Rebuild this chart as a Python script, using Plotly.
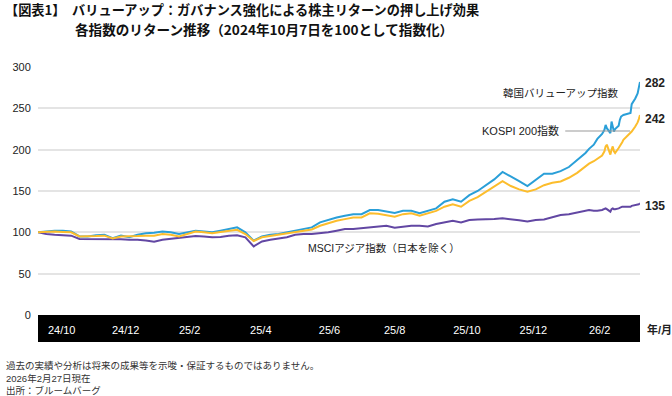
import pandas as pd
import plotly.graph_objects as go

# ---------------- data ----------------
weekly_dates = list(pd.date_range("2024-10-07", "2026-01-05", freq="7D").strftime("%Y-%m-%d"))
late_dates = ["2026-01-12", "2026-01-15", "2026-01-19", "2026-01-22", "2026-01-26", "2026-01-28",
              "2026-01-29", "2026-01-30", "2026-02-02", "2026-02-03", "2026-02-04", "2026-02-05",
              "2026-02-06", "2026-02-09", "2026-02-10", "2026-02-11", "2026-02-12", "2026-02-13",
              "2026-02-19", "2026-02-20", "2026-02-23", "2026-02-24", "2026-02-25", "2026-02-26",
              "2026-02-27"]
dates = weekly_dates + late_dates

korea_valueup = [100, 101, 102, 102, 101, 95, 95, 96.5, 97, 93,
                 96, 94, 97, 99, 99.5, 101, 100, 98, 100, 102,
                 101, 100, 102, 104, 106, 100, 90, 95, 97, 98,
                 100, 102, 104, 106, 112, 115, 118, 120, 122, 122,
                 127, 127, 125, 123.5, 126, 126, 123, 126, 129, 137,
                 140, 137, 145, 150, 157, 164, 173, 168, 162, 156,
                 164, 171, 171, 174, 179, 187,
                 196, 201, 206, 213, 219, 224, 230, 226, 220, 234, 226, 222,
                 225, 229, 236, 240, 241, 242, 244.5, 255, 262, 266, 268, 275, 282]

kospi200 = [100, 100.5, 101, 100.5, 100, 95, 95, 95.5, 96, 92.5,
            95, 95, 95.5, 96, 96, 98, 97, 95, 98, 101,
            100, 99, 100.5, 102, 103, 98, 89.5, 94, 95.5, 97,
            98.5, 100, 102, 103.5, 108, 111, 114, 116, 118, 118,
            123, 122.5, 121, 119, 122, 123, 120, 123, 126, 131,
            134, 131, 138, 142.5, 149, 155, 162, 156, 152, 149,
            152, 157, 160, 161.5, 166, 172,
            180, 183, 186, 189, 193, 198, 204, 206, 194, 200, 204, 198,
            196, 202, 204, 206, 209, 212, 220, 222, 228, 230, 233, 237, 242]

msci_asia_xjp = [100, 98, 97, 96.5, 96, 92, 92, 92, 92, 92,
                 91.5, 91, 91, 90, 88.5, 91, 92, 93, 94, 95.5,
                 95, 94, 94.5, 96, 96.5, 94, 83, 89, 91, 92.5,
                 94, 97, 98, 98, 99, 100, 102, 104, 104, 105,
                 106, 106.5, 108, 105.5, 106.5, 108, 108, 107, 110, 112,
                 114, 112, 115, 115.5, 115.5, 116, 117, 116, 114.5, 113,
                 115, 115.5, 118, 121, 122, 124,
                 126, 127, 126, 126, 127, 128, 129, 128, 125, 128, 129, 128,
                 128, 129, 130, 130, 131, 131, 131, 132, 133, 133, 134, 134, 135]

series_names = ["MSCIアジア指数（日本を除く）", "韓国バリューアップ指数", "KOSPI 200指数"]
end_labels = ["135", "282", "242"]

y_ticks = [0, 50, 100, 150, 200, 250, 300]
x_tick_dates = ["2024-10-27", "2024-12-20", "2025-02-12", "2025-04-13", "2025-06-10",
                "2025-08-04", "2025-10-04", "2025-11-29", "2026-01-24"]
x_tick_text = ["24/10", "24/12", "25/2", "25/4", "25/6", "25/8", "25/10", "25/12", "26/2"]

title_1 = "【図表1】　バリューアップ：ガバナンス強化による株主リターンの押し上げ効果"
title_2 = "各指数のリターン推移（2024年10月7日を100として指数化）"
notes = ["過去の実績や分析は将来の成果等を示唆・保証するものではありません。",
         "2026年2月27日現在",
         "出所：ブルームバーグ"]

# ---------------- style ----------------
FONT = "Arial, 'Liberation Sans', 'Noto Sans CJK JP', sans-serif"
JFONT = "'Noto Sans CJK JP', Arial, sans-serif"
C_BLUE = "#2a9fd8"
C_YEL = "#fcbd2c"
C_PUR = "#6247a3"

fig = go.Figure()
fig.add_trace(go.Scatter(x=dates, y=msci_asia_xjp, mode="lines", name=series_names[0],
                         line=dict(color=C_PUR, width=2)))
fig.add_trace(go.Scatter(x=dates, y=korea_valueup, mode="lines", name=series_names[1],
                         line=dict(color=C_BLUE, width=2)))
fig.add_trace(go.Scatter(x=dates, y=kospi200, mode="lines", name=series_names[2],
                         line=dict(color=C_YEL, width=2)))

fig.update_layout(
    width=672, height=396,
    margin=dict(l=36, r=32, t=67, b=81),
    paper_bgcolor="white", plot_bgcolor="white",
    showlegend=False,
    font=dict(family=FONT, size=11, color="#222"),
)
fig.update_yaxes(range=[0, 300], tickvals=y_ticks, showgrid=True, gridcolor="#e4e4e4",
                 gridwidth=1.5, zeroline=False, showline=False,
                 ticks="outside", ticklen=4, tickcolor="rgba(0,0,0,0)",
                 tickfont=dict(family=FONT, size=11, color="#222"))
fig.update_xaxes(type="date", range=[dates[0], dates[-1]], tickvals=x_tick_dates, ticktext=x_tick_text,
                 showgrid=False, zeroline=False, showline=False,
                 ticks="outside", ticklen=5, tickcolor="rgba(0,0,0,0)",
                 tickfont=dict(family=FONT, size=11, color="white"))

H = 248.0
W = 604.0
def px(xp):
    return (xp - 36) / W
def py(yp):
    return (315 - yp) / H

# black axis band
fig.add_shape(type="rect", xref="paper", yref="paper", x0=0, x1=1, y0=py(342), y1=0,
              fillcolor="black", line=dict(width=0), layer="below")
# leader line for KOSPI label
fig.add_shape(type="line", xref="paper", yref="paper", x0=px(565), x1=px(630), y0=py(131), y1=py(131),
              line=dict(color="#999999", width=1))

ann = []
ann.append(dict(text=series_names[1], x=px(621), y=py(92), xanchor="right", yanchor="middle",
                font=dict(family=JFONT, size=10.5, color="#222")))
ann.append(dict(text=series_names[2], x=px(561), y=py(130), xanchor="right", yanchor="middle",
                font=dict(family=FONT, size=11, color="#222")))
ann.append(dict(text=series_names[0], x=px(383), y=py(248), xanchor="center", yanchor="middle",
                font=dict(family=FONT, size=10.5, color="#222")))
for lab, yp in zip(end_labels, [205.5, 83, 119]):
    ann.append(dict(text="<b>" + lab + "</b>", x=px(643), y=py(yp), xanchor="left", yanchor="middle",
                    font=dict(family=FONT, size=12, color="#222")))
ann.append(dict(text="<b>年/月</b>", x=px(645), y=py(329), xanchor="left", yanchor="middle",
                font=dict(family=FONT, size=11, color="#222")))
ann.append(dict(text="<b>" + title_1 + "</b>", x=px(1), y=py(9), xanchor="left", yanchor="middle",
                font=dict(family=JFONT, size=13.2, color="#111")))
ann.append(dict(text="<b>" + title_2 + "</b>", x=px(71), y=py(29), xanchor="left", yanchor="middle",
                font=dict(family=JFONT, size=13.6, color="#111")))
for t, yp in zip(notes, [365, 378, 390]):
    ann.append(dict(text=t, x=px(2), y=py(yp), xanchor="left", yanchor="middle",
                    font=dict(family=FONT, size=9.5, color="#333")))
for a in ann:
    a.update(xref="paper", yref="paper", showarrow=False)
fig.update_layout(annotations=ann)

fig.write_html("out.html", config={"displayModeBar": False},
               post_script="document.body.style.margin='0';document.body.style.padding='0';")
